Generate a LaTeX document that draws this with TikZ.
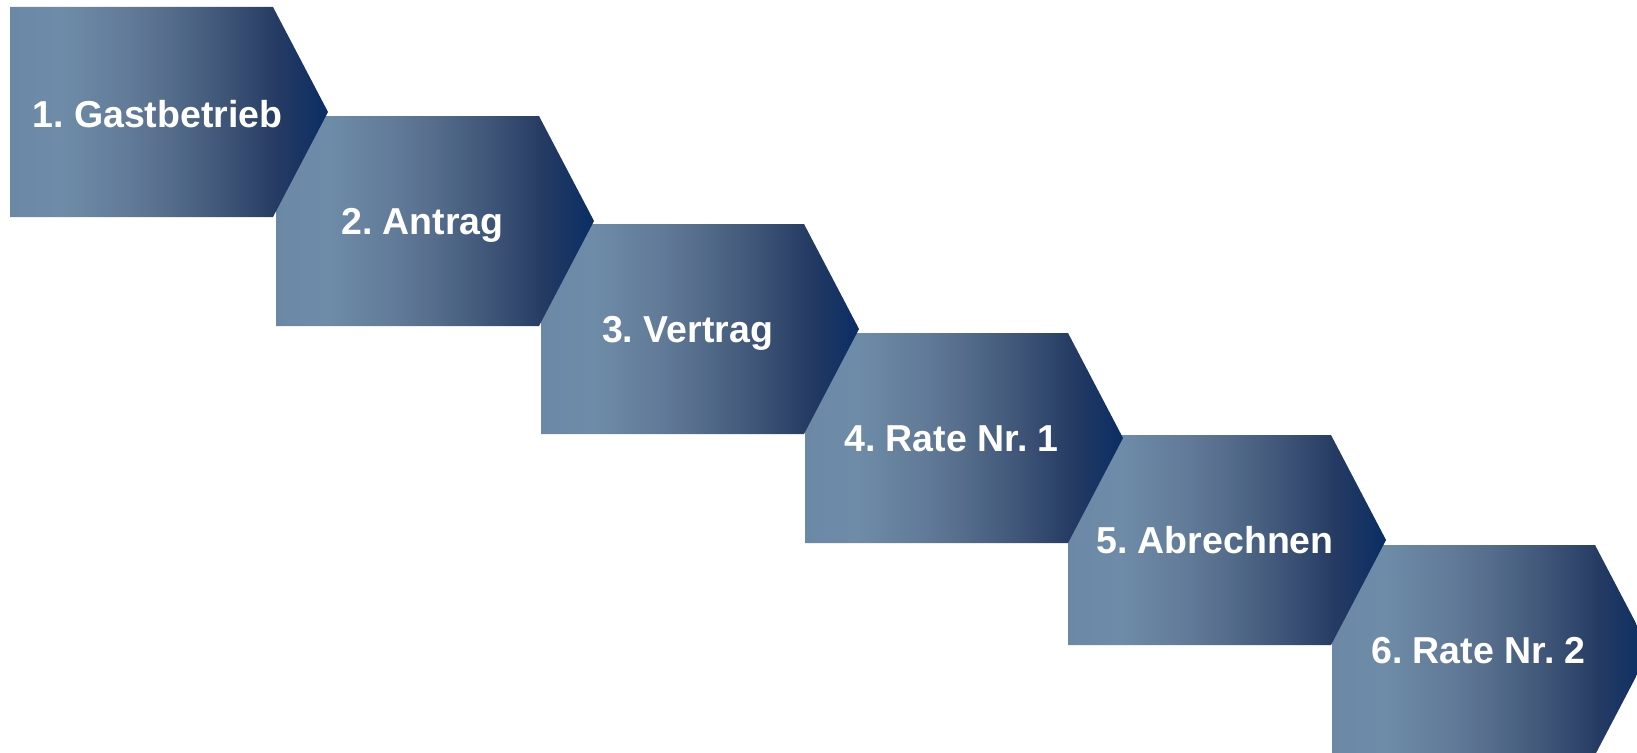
\documentclass[tikz,border=0pt]{standalone}
\usepackage{fontspec}
\setmainfont{Liberation Sans}
\pgfdeclarehorizontalshading{chevgrad}{100bp}{%
  rgb(0bp)=(0.42,0.537,0.651);
  rgb(25bp)=(0.42,0.537,0.651);
  rgb(33bp)=(0.431,0.549,0.659);
  rgb(44bp)=(0.38,0.478,0.596);
  rgb(50bp)=(0.333,0.427,0.545);
  rgb(59.5bp)=(0.235,0.325,0.463);
  rgb(67bp)=(0.145,0.231,0.388);
  rgb(75bp)=(0.04,0.176,0.392);
  rgb(100bp)=(0.04,0.176,0.392)}
\tikzset{
  chevshade/.style={shading=chevgrad, draw=none},
  steplabel/.style={text=white, font=\fontsize{37.5}{45}\selectfont\bfseries, inner sep=0pt, anchor=base}
}
\newcommand{\chevron}[2]{%
  \shade[chevshade] (#1,#2) -- ++(263,0) -- ++(55,105) -- ++(-55,105) -- ++(-263,0) -- cycle;}
\begin{document}
\begin{tikzpicture}[x=1pt,y=-1pt]
\frenchspacing
\useasboundingbox (0,0) rectangle (1637,752);
\clip (0,0) rectangle (1637,752);
\fill[white] (0,0) rectangle (1637,752);
% drawn from last to first so each chevron tip lies over the next box
\chevron{1332}{545}
\chevron{1068}{435}
\chevron{805}{333}
\chevron{541}{224}
\chevron{276}{116}
\chevron{10}{7}
\node[steplabel] (s1) at (157.5,127) {1. Gastbetrieb};
\node[steplabel] (s2) at (422.5,234) {2. Antrag};
\node[steplabel] (s3) at (687.5,342) {3. Vertrag};
\node[steplabel] (s4) at (951.5,451) {4. Rate Nr. 1};
\node[steplabel] (s5) at (1215,553) {5. Abrechnen};
\node[steplabel] (s6) at (1478.5,663) {6. Rate Nr. 2};
\end{tikzpicture}
\end{document}
